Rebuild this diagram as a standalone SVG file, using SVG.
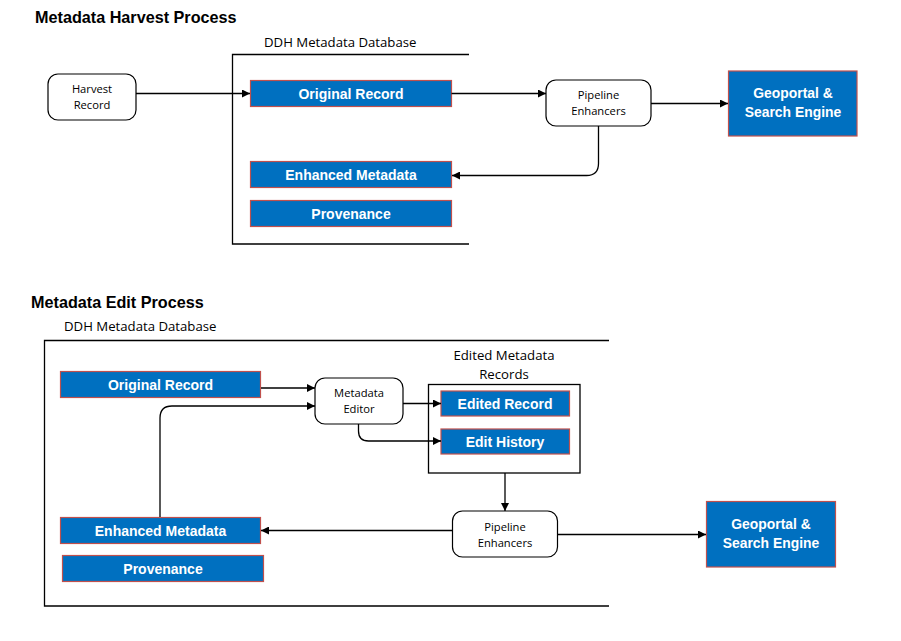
<svg xmlns="http://www.w3.org/2000/svg" width="901" height="641" viewBox="0 0 901 641">
<defs>
<style>
.bg{fill:#ffffff}
.title{font-family:"Liberation Sans",Arial,sans-serif;font-weight:bold;font-size:16.2px;fill:#000}
.label{font-family:"Open Sans","Noto Sans",sans-serif;font-size:13.2px;fill:#000}
.small{font-family:"Open Sans","Noto Sans",sans-serif;font-size:11.2px;fill:#000;text-anchor:middle}
.blue{fill:#0070C0;stroke:#C0504D;stroke-width:1.2}
.btxt{font-family:"Liberation Sans",Arial,sans-serif;font-weight:bold;font-size:14px;fill:#fff;text-anchor:middle}
.gtxt{font-family:"Liberation Sans",Arial,sans-serif;font-weight:bold;font-size:13.9px;fill:#fff;text-anchor:middle}
.round{fill:#fff;stroke:#000;stroke-width:1.2}
.cont{fill:none;stroke:#000;stroke-width:1.3}
.edge{fill:none;stroke:#000;stroke-width:1.3}
</style>
<marker id="arr" viewBox="0 0 10 10" refX="10" refY="5" markerWidth="10" markerHeight="8" markerUnits="userSpaceOnUse" orient="auto">
<path d="M0,0 L10,5 L0,10 z" fill="#000"/>
</marker>
</defs>
<rect class="bg" x="0" y="0" width="901" height="641"/>

<!-- Harvest section -->
<g id="harvest-title"><text class="title" x="35" y="23">Metadata Harvest Process</text></g>
<g id="harvest-db">
<path class="cont" d="M469 54.5 H232.5 V244 H469"/>
<text class="label" x="264" y="47">DDH Metadata Database</text>
</g>
<g id="harvest-record">
<rect class="round" x="48" y="74" width="88" height="46" rx="10"/>
<text class="small" x="92" y="93">Harvest</text>
<text class="small" x="92" y="109">Record</text>
</g>
<g id="h-original">
<rect class="blue" x="250.5" y="80.5" width="201" height="26"/>
<text class="btxt" x="351" y="98.5">Original Record</text>
</g>
<g id="h-enhanced">
<rect class="blue" x="250.5" y="161.5" width="201" height="26"/>
<text class="btxt" x="351" y="179.5">Enhanced Metadata</text>
</g>
<g id="h-provenance">
<rect class="blue" x="250.5" y="200.5" width="201" height="26"/>
<text class="btxt" x="351" y="218.5">Provenance</text>
</g>
<g id="h-pipeline">
<rect class="round" x="546" y="80" width="105" height="46" rx="10"/>
<text class="small" x="598.5" y="99">Pipeline</text>
<text class="small" x="598.5" y="115">Enhancers</text>
</g>
<g id="h-geoportal">
<rect class="blue" x="728.5" y="71" width="128.5" height="65"/>
<text class="gtxt" x="793" y="98">Geoportal &amp;</text>
<text class="gtxt" x="793" y="117">Search Engine</text>
</g>

<!-- Edit section -->
<g id="edit-title"><text class="title" x="31" y="308">Metadata Edit Process</text></g>
<g id="edit-db">
<path class="cont" d="M609 340.5 H44.5 V606 H609"/>
<text class="label" x="64" y="331">DDH Metadata Database</text>
</g>
<g id="e-original">
<rect class="blue" x="60.5" y="371.5" width="200" height="26"/>
<text class="btxt" x="160.5" y="389.5">Original Record</text>
</g>
<g id="e-enhanced">
<rect class="blue" x="60.5" y="517.5" width="200" height="26"/>
<text class="btxt" x="160.5" y="535.5">Enhanced Metadata</text>
</g>
<g id="e-provenance">
<rect class="blue" x="62.5" y="555.5" width="201" height="26"/>
<text class="btxt" x="163" y="573.5">Provenance</text>
</g>
<g id="e-editor">
<rect class="round" x="315" y="378" width="88" height="46" rx="10"/>
<text class="small" x="359" y="397">Metadata</text>
<text class="small" x="359" y="413">Editor</text>
</g>
<g id="e-edited-records">
<rect class="cont" x="428.5" y="384.5" width="151.5" height="88.5"/>
<text class="label" x="504" y="360" text-anchor="middle">Edited Metadata</text>
<text class="label" x="504" y="379" text-anchor="middle">Records</text>
</g>
<g id="e-edited-record">
<rect class="blue" x="441" y="391" width="128.5" height="25"/>
<text class="btxt" x="505" y="408.5">Edited Record</text>
</g>
<g id="e-edit-history">
<rect class="blue" x="441" y="429" width="128.5" height="25"/>
<text class="btxt" x="505" y="446.5">Edit History</text>
</g>
<g id="e-pipeline">
<rect class="round" x="452.5" y="511" width="105" height="46" rx="10"/>
<text class="small" x="505" y="530.5">Pipeline</text>
<text class="small" x="505" y="546.5">Enhancers</text>
</g>
<g id="e-geoportal">
<rect class="blue" x="706.5" y="501.5" width="129" height="65.5"/>
<text class="gtxt" x="771" y="529">Geoportal &amp;</text>
<text class="gtxt" x="771" y="548">Search Engine</text>
</g>

<g id="connectors">
<path class="edge" d="M136 93.5 H250" marker-end="url(#arr)"/>
<path class="edge" d="M451.5 93.5 H546" marker-end="url(#arr)"/>
<path class="edge" d="M651 103.5 H728" marker-end="url(#arr)"/>
<path class="edge" d="M598.5 126 V163.5 Q598.5 175.5 586.5 175.5 H452" marker-end="url(#arr)"/>

<path class="edge" d="M261 388 H315" marker-end="url(#arr)"/>
<path class="edge" d="M160 517 V418 Q160 406 172 406 H315" marker-end="url(#arr)"/>
<path class="edge" d="M403 403.5 H441" marker-end="url(#arr)"/>
<path class="edge" d="M358.5 424 V431 Q358.5 441 368.5 441 H441" marker-end="url(#arr)"/>
<path class="edge" d="M505 473 V511" marker-end="url(#arr)"/>
<path class="edge" d="M452.5 530.5 H261" marker-end="url(#arr)"/>
<path class="edge" d="M557.5 534.5 H706" marker-end="url(#arr)"/>
</g>
</svg>
